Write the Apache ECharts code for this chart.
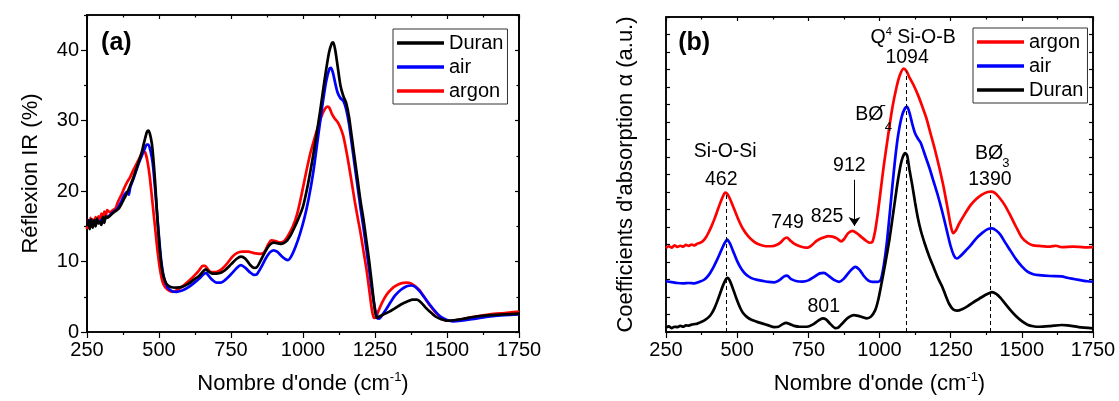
<!DOCTYPE html>
<html><head><meta charset="utf-8">
<script src="https://cdn.jsdelivr.net/npm/echarts@6/dist/echarts.min.js"></script>
<style>html,body{margin:0;padding:0;background:#fff}#c{width:1119px;height:401px}</style>
</head><body><div id="c"></div>
<script>
// ---------- DATA ----------
const seriesNames = ['Duran', 'air', 'argon'];
const xTickValues = [250, 500, 750, 1000, 1250, 1500, 1750];
const yMajorA = [0, 10, 20, 30, 40];
const yMinorA = [5, 15, 25, 35, 45];

// (a) Réflexion IR (%)
const reflDuran = [[250,15.0],[255,15.8],[260,14.6],[265,16.0],[270,14.8],[275,15.9],[280,15.0],[285,16.1],[290,15.4],[295,15.6],[300,15.2],[305,16.3],[310,15.5],[315,16.4],[320,16.2],[330,16.5],[340,16.9],[350,17.2],[360,17.5],[370,18.2],[380,19.0],[390,19.8],[400,20.8],[410,21.8],[420,23.0],[430,24.2],[440,25.5],[450,27.2],[458,28.4],[463,28.6],[468,28.2],[475,26.8],[480,24.8],[487,21.0],[493,17.0],[500,13.0],[507,10.0],[515,8.0],[525,6.9],[540,6.4],[560,6.3],[580,6.4],[600,6.8],[620,7.4],[640,8.0],[655,8.7],[663,8.9],[672,8.6],[685,8.3],[700,8.3],[715,8.4],[730,8.8],[750,9.6],[770,10.4],[785,10.7],[800,10.4],[815,9.6],[830,9.1],[840,9.2],[855,10.3],[870,11.5],[885,12.4],[897,12.7],[910,12.6],[925,12.5],[940,12.8],[955,13.6],[970,14.8],[985,16.2],[1000,17.8],[1015,20.5],[1030,23.8],[1045,27.5],[1060,31.5],[1075,35.8],[1090,39.6],[1100,41.0],[1105,41.1],[1112,40.0],[1120,37.8],[1130,35.0],[1140,33.5],[1150,32.5],[1160,30.5],[1170,27.5],[1180,24.5],[1190,21.5],[1200,18.5],[1210,16.0],[1220,13.0],[1230,10.0],[1240,6.5],[1250,3.0],[1256,2.0],[1265,2.2],[1280,2.5],[1300,2.9],[1320,3.4],[1340,3.9],[1360,4.3],[1380,4.6],[1395,4.6],[1410,4.2],[1425,3.5],[1440,2.9],[1460,2.2],[1480,1.8],[1500,1.6],[1530,1.7],[1560,1.9],[1600,2.2],[1650,2.4],[1700,2.5],[1750,2.6]];
const reflAir = [[250,15.3],[260,15.9],[270,15.2],[280,15.8],[290,15.5],[300,15.9],[310,16.0],[320,16.3],[330,16.6],[340,17.0],[350,17.3],[360,17.8],[370,18.6],[380,19.5],[390,19.9],[395,19.5],[400,20.5],[410,21.6],[420,22.8],[430,24.0],[440,25.0],[450,26.0],[458,26.6],[463,26.6],[470,25.8],[478,24.0],[485,21.0],[492,17.5],[500,13.5],[508,10.0],[518,7.6],[530,6.3],[545,5.8],[560,5.7],[580,5.9],[600,6.3],[620,6.9],[640,7.6],[655,8.2],[664,8.4],[672,8.0],[685,7.4],[700,7.0],[715,7.0],[730,7.4],[750,8.2],[770,9.1],[785,9.5],[800,9.1],[815,8.5],[830,8.1],[840,8.2],[855,9.2],[870,10.4],[885,11.3],[897,11.6],[910,11.4],[925,10.8],[940,10.3],[948,10.2],[960,10.8],[975,12.2],[990,14.0],[1005,16.2],[1020,19.0],[1035,22.5],[1050,27.0],[1065,31.5],[1080,35.5],[1092,37.4],[1097,37.5],[1104,36.8],[1112,35.3],[1120,34.0],[1130,33.2],[1140,32.8],[1150,31.6],[1160,29.5],[1170,26.5],[1180,23.5],[1190,20.5],[1200,17.5],[1210,14.8],[1220,11.8],[1230,8.8],[1240,5.8],[1250,3.3],[1258,2.0],[1265,1.9],[1275,2.4],[1290,3.3],[1305,4.3],[1320,5.2],[1340,6.0],[1360,6.5],[1375,6.6],[1390,6.4],[1405,5.8],[1420,5.0],[1440,3.9],[1460,2.9],[1480,2.1],[1500,1.7],[1520,1.5],[1550,1.6],[1600,1.9],[1650,2.2],[1700,2.4],[1750,2.5]];
const reflArgon = [[250,14.6],[254,15.9],[258,14.7],[262,16.2],[266,15.1],[270,16.0],[275,15.4],[280,16.3],[285,15.5],[290,16.4],[295,15.8],[300,16.8],[305,16.0],[310,17.1],[315,16.3],[320,17.3],[330,17.0],[340,17.3],[350,17.6],[355,18.2],[360,18.7],[370,19.5],[380,20.5],[390,21.3],[400,22.0],[410,22.9],[420,23.7],[430,24.5],[440,25.3],[446,25.6],[452,25.5],[460,24.2],[468,22.0],[477,18.5],[486,15.0],[495,11.5],[505,8.5],[515,6.8],[530,6.0],[548,5.7],[565,6.0],[585,6.6],[605,7.3],[625,8.1],[640,8.8],[652,9.4],[660,9.4],[670,8.9],[680,8.5],[695,8.5],[710,8.7],[725,9.2],[740,9.9],[755,10.7],[770,11.2],[790,11.4],[810,11.4],[830,11.2],[850,11.1],[865,11.3],[880,12.5],[890,13.0],[905,12.9],[920,12.7],[935,12.9],[950,13.8],[965,15.0],[980,16.8],[995,19.5],[1010,22.5],[1025,25.3],[1040,27.5],[1055,29.5],[1070,31.2],[1085,32.0],[1092,31.8],[1100,31.0],[1110,30.3],[1120,29.8],[1130,29.0],[1140,27.8],[1150,25.8],[1160,23.5],[1170,21.0],[1180,18.5],[1190,16.2],[1200,14.0],[1210,11.5],[1220,9.0],[1230,6.0],[1238,3.5],[1246,2.0],[1253,2.1],[1262,3.0],[1275,4.2],[1290,5.3],[1305,6.0],[1320,6.5],[1340,6.9],[1360,7.0],[1375,6.9],[1390,6.5],[1405,5.9],[1420,5.0],[1440,3.8],[1460,2.8],[1480,2.0],[1500,1.6],[1520,1.6],[1550,1.8],[1600,2.2],[1650,2.5],[1700,2.7],[1750,2.9]];

// (b) Coefficients d'absorption (a.u.), offset curves
const absArgon = [[250,4.80],[260,4.90],[270,4.82],[280,4.95],[290,4.86],[300,4.93],[310,4.88],[320,4.98],[330,4.92],[340,5.00],[350,4.95],[360,5.05],[370,5.10],[380,5.20],[390,5.40],[400,5.70],[410,6.05],[420,6.45],[430,6.90],[440,7.35],[450,7.75],[458,7.97],[465,7.90],[475,7.60],[485,7.20],[495,6.80],[505,6.40],[520,5.90],[540,5.45],[560,5.15],[580,4.98],[600,4.90],[620,4.90],[640,4.98],[655,5.15],[665,5.33],[675,5.40],[685,5.25],[700,5.05],[720,4.90],[740,4.82],[750,4.83],[765,5.00],[780,5.22],[800,5.38],[820,5.48],[835,5.45],[850,5.35],[865,5.18],[875,5.30],[890,5.65],[905,5.78],[920,5.65],[935,5.45],[950,5.25],[965,5.10],[975,5.15],[985,5.80],[995,6.90],[1005,8.20],[1015,9.50],[1030,11.20],[1045,12.80],[1060,14.00],[1072,14.70],[1085,15.05],[1095,14.90],[1105,14.55],[1120,14.10],[1135,13.55],[1150,12.90],[1165,12.20],[1180,11.30],[1195,10.40],[1210,9.40],[1225,8.30],[1240,7.00],[1250,6.10],[1258,5.65],[1268,5.80],[1280,6.20],[1300,6.75],[1320,7.25],[1340,7.60],[1360,7.85],[1380,8.00],[1392,8.02],[1405,7.95],[1420,7.70],[1440,7.25],[1460,6.65],[1480,6.00],[1500,5.40],[1520,5.10],[1540,4.95],[1560,4.92],[1600,4.88],[1620,4.93],[1640,4.85],[1680,4.88],[1720,4.84],[1750,4.85]];
const absAir = [[250,2.90],[270,2.85],[290,2.80],[310,2.78],[330,2.80],[350,2.78],[370,2.88],[385,3.00],[400,3.25],[415,3.65],[430,4.15],[445,4.70],[455,5.05],[465,5.28],[475,5.05],[485,4.65],[500,4.05],[515,3.60],[530,3.30],[550,3.08],[570,2.98],[590,2.92],[610,2.86],[630,2.84],[650,2.98],[665,3.18],[675,3.22],[690,3.02],[710,2.90],[730,2.88],[750,2.95],[770,3.15],[790,3.35],[805,3.38],[820,3.22],[840,2.98],[858,2.87],[875,3.05],[895,3.45],[915,3.72],[930,3.55],[945,3.20],[960,2.95],[975,2.87],[995,2.87],[1005,3.00],[1015,3.80],[1025,5.00],[1035,6.60],[1045,8.30],[1055,9.90],[1065,11.20],[1078,12.30],[1090,12.80],[1097,12.86],[1105,12.55],[1115,11.90],[1125,11.35],[1135,11.05],[1145,10.80],[1160,10.10],[1175,9.40],[1190,8.60],[1205,7.80],[1220,6.90],[1235,5.90],[1250,4.90],[1262,4.35],[1272,4.20],[1285,4.35],[1300,4.60],[1320,4.95],[1340,5.35],[1360,5.65],[1380,5.88],[1395,5.92],[1410,5.80],[1425,5.55],[1440,5.15],[1460,4.65],[1480,4.15],[1500,3.75],[1520,3.45],[1540,3.30],[1560,3.25],[1600,3.20],[1640,3.18],[1660,3.10],[1700,2.98],[1730,2.90],[1750,2.87]];
const absDuran = [[250,0.25],[260,0.32],[270,0.22],[280,0.30],[290,0.28],[300,0.35],[310,0.30],[320,0.38],[330,0.36],[340,0.42],[350,0.45],[360,0.48],[370,0.55],[380,0.62],[390,0.72],[400,0.85],[410,1.05],[420,1.35],[430,1.75],[440,2.20],[450,2.65],[460,3.00],[466,3.10],[472,3.00],[480,2.70],[490,2.25],[500,1.80],[510,1.40],[520,1.10],[535,0.85],[550,0.70],[570,0.58],[590,0.48],[610,0.38],[630,0.28],[645,0.30],[660,0.45],[672,0.52],[685,0.45],[700,0.35],[720,0.30],[745,0.30],[765,0.42],[785,0.65],[800,0.78],[812,0.72],[828,0.45],[845,0.22],[855,0.25],[870,0.50],[890,0.82],[910,0.96],[925,0.92],[940,0.85],[955,0.78],[970,0.88],[985,1.25],[995,1.80],[1005,2.60],[1020,3.90],[1035,5.30],[1050,7.00],[1065,8.70],[1078,9.80],[1090,10.22],[1097,10.10],[1105,9.30],[1115,8.40],[1125,7.40],[1135,6.50],[1145,5.80],[1160,5.00],[1175,4.30],[1190,3.70],[1205,3.10],[1220,2.60],[1232,2.10],[1245,1.60],[1258,1.30],[1272,1.22],[1290,1.30],[1310,1.48],[1330,1.70],[1350,1.90],[1370,2.10],[1385,2.22],[1395,2.28],[1410,2.18],[1425,1.95],[1440,1.65],[1460,1.25],[1480,0.90],[1500,0.62],[1520,0.42],[1540,0.33],[1560,0.30],[1600,0.34],[1640,0.40],[1660,0.38],[1700,0.28],[1750,0.21]];

// band positions (cm-1) and their marker heights
const bandLines = [[462, 7.9], [1094, 14.9], [1390, 7.95]];
const arrowBand = [912, 8.7, 6.06];
// annotation texts and where they sit (data coords of panel b)
const annoB = [
  ['{b|(b)}', 349, 16.5],
  ['{t|Q}{sup|4}{t| Si-O-B}', 1118, 16.85],
  ['{t|1094}', 1097, 15.68],
  ['{t|BØ}', 964, 12.41],
  ['{s|4}', 1031, 11.7],
  ['{s|-}', 1015, 12.95],
  ['{t|Si-O-Si}', 458, 10.3],
  ['{t|462}', 444, 8.7],
  ['{t|749}', 677, 6.25],
  ['{t|825}', 816, 6.6],
  ['{t|912}', 894, 9.5],
  ['{t|801}', 804, 1.45],
  ['{t|BØ}', 1385, 10.18],
  ['{s|3}', 1444, 9.65],
  ['{t|1390}', 1388, 8.7]
];
const annoA = [['{b|(a)}', 352, 41.0]];

// ---------- CHART ----------
const FONT = 'Liberation Sans, Arial, Helvetica, sans-serif';
const colors = {Duran: '#000000', air: '#0000ff', argon: '#ff0000'};
const rich = {
  t: {fontSize: 19.5, fontFamily: FONT, color: '#000', lineHeight: 22},
  sup: {fontSize: 11, fontFamily: FONT, color: '#000', verticalAlign: 'top', lineHeight: 22},
  s: {fontSize: 13, fontFamily: FONT, color: '#000', lineHeight: 16},
  b: {fontSize: 25, fontFamily: FONT, fontWeight: 'bold', color: '#000', lineHeight: 28}
};
const nameRich = {
  n: {fontSize: 22, fontFamily: FONT, color: '#000', lineHeight: 26},
  e: {fontSize: 13, fontFamily: FONT, color: '#000', verticalAlign: 'top', lineHeight: 26}
};
const xName = "{n|Nombre d'onde (cm}{e|-1}{n|)}";
const plainNum = v => String(v);

function bottomX(gi) {
  return {gridIndex: gi, type: 'value', min: 250, max: 1750, interval: 250, position: 'bottom',
    axisLine: {onZero: false, lineStyle: {color: '#000', width: 1.5}},
    axisTick: {inside: false, length: 6, lineStyle: {color: '#000', width: 1.2}},
    minorTick: {show: true, splitNumber: 2, length: 3, lineStyle: {color: '#000', width: 1.2}},
    axisLabel: {fontSize: 20, color: '#000', fontFamily: FONT, margin: 8, formatter: plainNum,
      showMinLabel: true, showMaxLabel: true},
    splitLine: {show: false},
    name: xName, nameLocation: 'middle', nameGap: 39, nameTextStyle: {rich: nameRich}};
}
function topX(gi) {
  return {gridIndex: gi, type: 'value', min: 250, max: 1750, interval: 250, position: 'top',
    axisLine: {onZero: false, lineStyle: {color: '#000', width: 1.5}},
    axisTick: {inside: true, length: 4, lineStyle: {color: '#000', width: 1.2}},
    minorTick: {show: true, splitNumber: 2, length: 2.5, lineStyle: {color: '#000', width: 1.2}},
    axisLabel: {show: false}, splitLine: {show: false}};
}
function yA(pos, vals, len, inside, labels, extra) {
  return Object.assign({gridIndex: 0, type: 'value', min: 0, max: 45, interval: 5, position: pos,
    axisLine: {onZero: false, show: true, lineStyle: {color: '#000', width: 1.5}},
    axisTick: {inside: inside, length: len, customValues: vals, lineStyle: {color: '#000', width: 1.2}},
    axisLabel: labels ? {customValues: vals, fontSize: 20, color: '#000', fontFamily: FONT, margin: 8, formatter: plainNum} : {show: false},
    splitLine: {show: false}}, extra || {});
}
function yB(pos, inside, extra) {
  return Object.assign({gridIndex: 1, type: 'value', min: 0, max: 18, interval: 1, position: pos,
    axisLine: {onZero: false, show: true, lineStyle: {color: '#000', width: 1.5}},
    axisTick: {inside: inside, length: 4, lineStyle: {color: '#000', width: 1.2}},
    axisLabel: {show: false}, splitLine: {show: false}}, extra || {});
}

function lineSeries(name, data, xi, yi, extra) {
  return Object.assign({name: name, type: 'line', data: data, xAxisIndex: xi, yAxisIndex: yi,
    showSymbol: false, symbol: 'none', smooth: 0.25, lineStyle: {color: colors[name], width: 2.7},
    itemStyle: {color: colors[name]}, silent: true, animation: false, z: 3}, extra || {});
}
function annoSeries(list, xi, yi) {
  return {type: 'scatter', xAxisIndex: xi, yAxisIndex: yi, symbolSize: 0, silent: true, animation: false, z: 5,
    itemStyle: {color: '#000', opacity: 1},
    data: list.map(a => ({value: [a[1], a[2]], label: {formatter: a[0]}})),
    label: {show: true, position: 'inside', align: 'center', verticalAlign: 'middle', color: '#000',
      opacity: 1, textBorderWidth: 0, textShadowBlur: 0, rich: rich}};
}

const legendBase = {orient: 'vertical', icon: 'rect', itemWidth: 47, itemHeight: 3.5, itemGap: 0,
  padding: [2, 4, 1, 4], borderColor: '#333', borderWidth: 1, borderRadius: 0,
  textStyle: {fontSize: 20, fontFamily: FONT, color: '#000', lineHeight: 24}, selectedMode: false};

const option = {
  backgroundColor: '#fff',
  animation: false,
  grid: [
    {left: 87, right: 600, top: 15, bottom: 69, show: true, borderColor: '#000', borderWidth: 1.5},
    {left: 666, right: 26, top: 17, bottom: 69, show: true, borderColor: '#000', borderWidth: 1.5}
  ],
  legend: [
    Object.assign({}, legendBase, {left: 393, top: 29, data: ['Duran', 'air', 'argon']}),
    Object.assign({}, legendBase, {left: 973, top: 28, data: ['argon', 'air', 'Duran']})
  ],
  xAxis: [bottomX(0), topX(0), bottomX(1), topX(1)],
  yAxis: [
    yA('left', yMajorA, 6, false, true, {name: 'Réflexion IR (%)', nameLocation: 'middle', nameGap: 45,
      nameTextStyle: {fontSize: 22, fontFamily: FONT, color: '#000'}}),
    yA('left', yMinorA, 3, false, false),
    yA('right', yMajorA, 4, true, false),
    yA('right', yMinorA, 2.5, true, false),
    yB('left', true, {name: "Coefficients d'absorption α (a.u.)", nameLocation: 'middle', nameGap: 29,
      nameTextStyle: {fontSize: 22, fontFamily: FONT, color: '#000'}}),
    yB('right', true)
  ],
  series: [
    lineSeries('argon', reflArgon, 0, 0),
    lineSeries('air', reflAir, 0, 0),
    lineSeries('Duran', reflDuran, 0, 0),
    lineSeries('argon', absArgon, 2, 4),
    lineSeries('air', absAir, 2, 4, {
      markLine: {silent: true, animation: false, symbol: ['none', 'arrow'], symbolSize: 9,
        label: {show: false}, lineStyle: {color: '#000', width: 1, type: 'solid'},
        data: [[{coord: [arrowBand[0], arrowBand[1]]}, {coord: [arrowBand[0], arrowBand[2]]}]]}
    }),
    lineSeries('Duran', absDuran, 2, 4, {
      markLine: {silent: true, animation: false, symbol: ['none', 'none'],
        label: {show: false}, lineStyle: {color: '#000', width: 1, type: [4, 3]},
        data: bandLines.map(b => [{coord: [b[0], 0]}, {coord: [b[0], b[1]]}])}
    }),
    annoSeries(annoA, 0, 0),
    annoSeries(annoB, 2, 4)
  ]
};
const chart = echarts.init(document.getElementById('c'), null, {renderer: 'canvas'});
chart.setOption(option);
</script></body></html>
